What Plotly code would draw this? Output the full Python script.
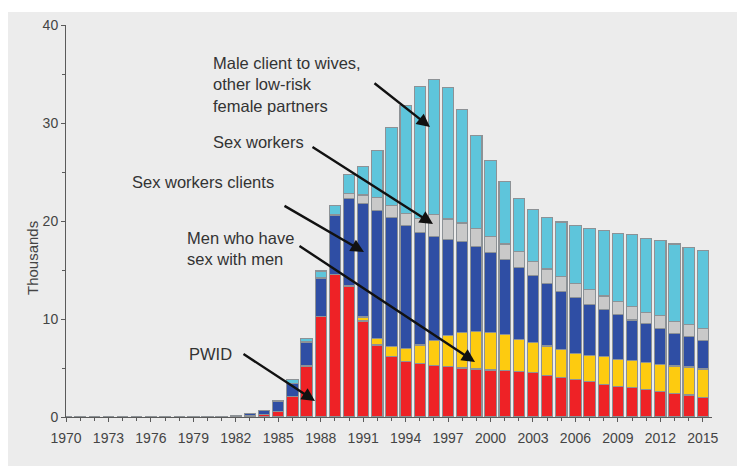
import plotly.graph_objects as go

years = list(range(1970, 2016))

pwid = [0, 0, 0, 0, 0, 0, 0, 0, 0, 0.01, 0.02, 0.03, 0.05, 0.12, 0.25, 0.6,
        2.1, 5.2, 10.3, 14.5, 13.3, 9.8, 7.35, 6.2, 5.65, 5.5, 5.3, 5.15,
        5.0, 4.9, 4.8, 4.7, 4.6, 4.5, 4.2, 4.05, 3.85, 3.6, 3.35, 3.15, 3.0,
        2.85, 2.6, 2.4, 2.25, 2.0]
msm = [0, 0, 0, 0, 0, 0, 0, 0, 0, 0, 0, 0, 0, 0, 0, 0,
       0, 0, 0, 0.05, 0.1, 0.4, 0.65, 1.0, 1.35, 1.85, 2.55, 3.15,
       3.6, 3.8, 3.8, 3.7, 3.3, 3.1, 3.05, 2.8, 2.65, 2.7, 2.8, 2.75, 2.75,
       2.75, 2.8, 2.8, 2.85, 2.9]
sw_clients = [0, 0, 0, 0, 0, 0, 0, 0, 0, 0.01, 0.02, 0.04, 0.1, 0.22, 0.4, 0.95,
              1.3, 2.4, 3.85, 6.0, 8.9, 11.6, 13.1, 13.2, 12.5, 11.45, 10.55, 9.8,
              9.3, 8.7, 8.2, 7.7, 7.4, 6.8, 6.35, 5.95, 5.7, 5.2, 4.85, 4.6, 4.15,
              3.9, 3.65, 3.3, 3.1, 2.9]
sex_workers = [0, 0, 0, 0, 0, 0, 0, 0, 0, 0, 0, 0, 0, 0, 0, 0,
               0, 0.05, 0.1, 0.15, 0.5, 0.85, 1.3, 1.2, 1.25, 1.5, 2.3, 2.1,
               1.9, 1.85, 1.6, 1.55, 1.6, 1.5, 1.5, 1.5, 1.4, 1.5, 1.35, 1.3, 1.4,
               1.2, 1.35, 1.2, 1.2, 1.25]
low_risk = [0, 0, 0, 0, 0, 0, 0, 0, 0, 0, 0, 0, 0, 0.02, 0.05, 0.1,
            0.4, 0.35, 0.65, 0.9, 1.9, 2.95, 4.8, 7.9, 11.05, 13.4, 13.7, 13.4,
            11.6, 9.45, 7.8, 6.4, 5.4, 5.3, 5.3, 5.6, 5.9, 6.25, 6.65, 6.95, 7.3,
            7.5, 7.6, 7.95, 7.9, 7.95]

series_names = ["PWID", "Men who have sex with men", "Sex workers clients",
                "Sex workers", "Male client to wives, other low-risk female partners"]
series_values = [pwid, msm, sw_clients, sex_workers, low_risk]
series_colors = ["#ee2226", "#fdcb10", "#2f4ea4", "#c9c9c9", "#5ec5db"]

tick_years = list(range(1970, 2016, 3))
tick_labels = [str(y) for y in tick_years]
y_title = "Thousands"

# page geometry (the page body has an 8px margin)
OFF = 8
W, H = 745 - OFF, 466 - OFF
L, R, T, B = 66, 712, 25, 417   # plot area in page pixels


def px(x):
    return (x - L) / (R - L)


def py(y):
    return (B - y) / (B - T)


fig = go.Figure()
for name, vals, col in zip(series_names, series_values, series_colors):
    fig.add_trace(go.Bar(
        x=years, y=vals, name=name, width=0.8,
        marker=dict(color=col, line=dict(color="#8d9296", width=1.1)),
    ))

BG = "#ececec"
fig.update_layout(
    width=W, height=H, autosize=False,
    barmode="stack", bargap=0.2,
    showlegend=False,
    paper_bgcolor="white", plot_bgcolor=BG,
    margin=dict(l=L - OFF, r=W - (R - OFF), t=T - OFF, b=H - (B - OFF), pad=0,
                autoexpand=False),
    font=dict(family="Liberation Sans, Arial, sans-serif", color="#3a3a3a"),
    xaxis=dict(
        range=[1970, 2015.65], tickvals=tick_years, ticktext=tick_labels,
        showgrid=False, zeroline=False, showline=True, linecolor="#5a5a5a",
        linewidth=1, ticks="outside", ticklen=4, tickcolor="#5a5a5a",
        tickfont=dict(size=14, color="#444"), ticklabelstandoff=4,
        automargin=False,
        minor=dict(dtick=1, tick0=1970, ticks="outside", ticklen=3, tickcolor="#5a5a5a"),
    ),
    yaxis=dict(
        range=[0, 40], tickvals=[0, 10, 20, 30, 40],
        showgrid=False, zeroline=False, showline=True, linecolor="#5a5a5a",
        linewidth=1, ticks="outside", ticklen=4, tickcolor="#5a5a5a",
        tickfont=dict(size=14, color="#444"), automargin=False,
        minor=dict(dtick=5, ticks="outside", ticklen=3, tickcolor="#5a5a5a"),
    ),
)

# gray panel (white strip at top and left like the reference)
fig.add_shape(type="rect", xref="paper", yref="paper", layer="below",
              x0=px(8), x1=px(760), y0=py(480), y1=py(12),
              fillcolor=BG, line=dict(width=0))

# y-axis title
fig.add_annotation(text=y_title, xref="paper", yref="paper", x=px(32), y=py(258),
                   xanchor="center", yanchor="middle", textangle=-90,
                   showarrow=False, font=dict(size=15, color="#444"))

label_font = dict(size=16.5, color="#333333", family="Liberation Sans, Arial, sans-serif")
labels = [
    ("Male client to wives,<br>other low-risk<br>female partners", 211, 52),
    ("Sex workers", 211, 131),
    ("Sex workers clients", 130, 171),
    ("Men who have<br>sex with men", 185, 227),
    ("PWID", 187, 343),
]
for text, x, y in labels:
    fig.add_annotation(text=text, xref="paper", yref="paper", x=px(x), y=py(y),
                       xanchor="left", yanchor="top", align="left",
                       showarrow=False, font=label_font)

arrows = [
    ((373, 82), (430, 127)),
    ((311, 146), (433, 224)),
    ((283, 205), (364, 252)),
    ((298, 245), (475, 362)),
    ((242, 353), (315, 401)),
]
for (tx, ty), (hx, hy) in arrows:
    fig.add_annotation(text="", xref="paper", yref="paper", x=px(hx), y=py(hy),
                       ax=tx - hx, ay=ty - hy, showarrow=True,
                       arrowhead=2, arrowsize=1.1, arrowwidth=2.4,
                       arrowcolor="#111111", standoff=0)

fig.write_html("out.html")
